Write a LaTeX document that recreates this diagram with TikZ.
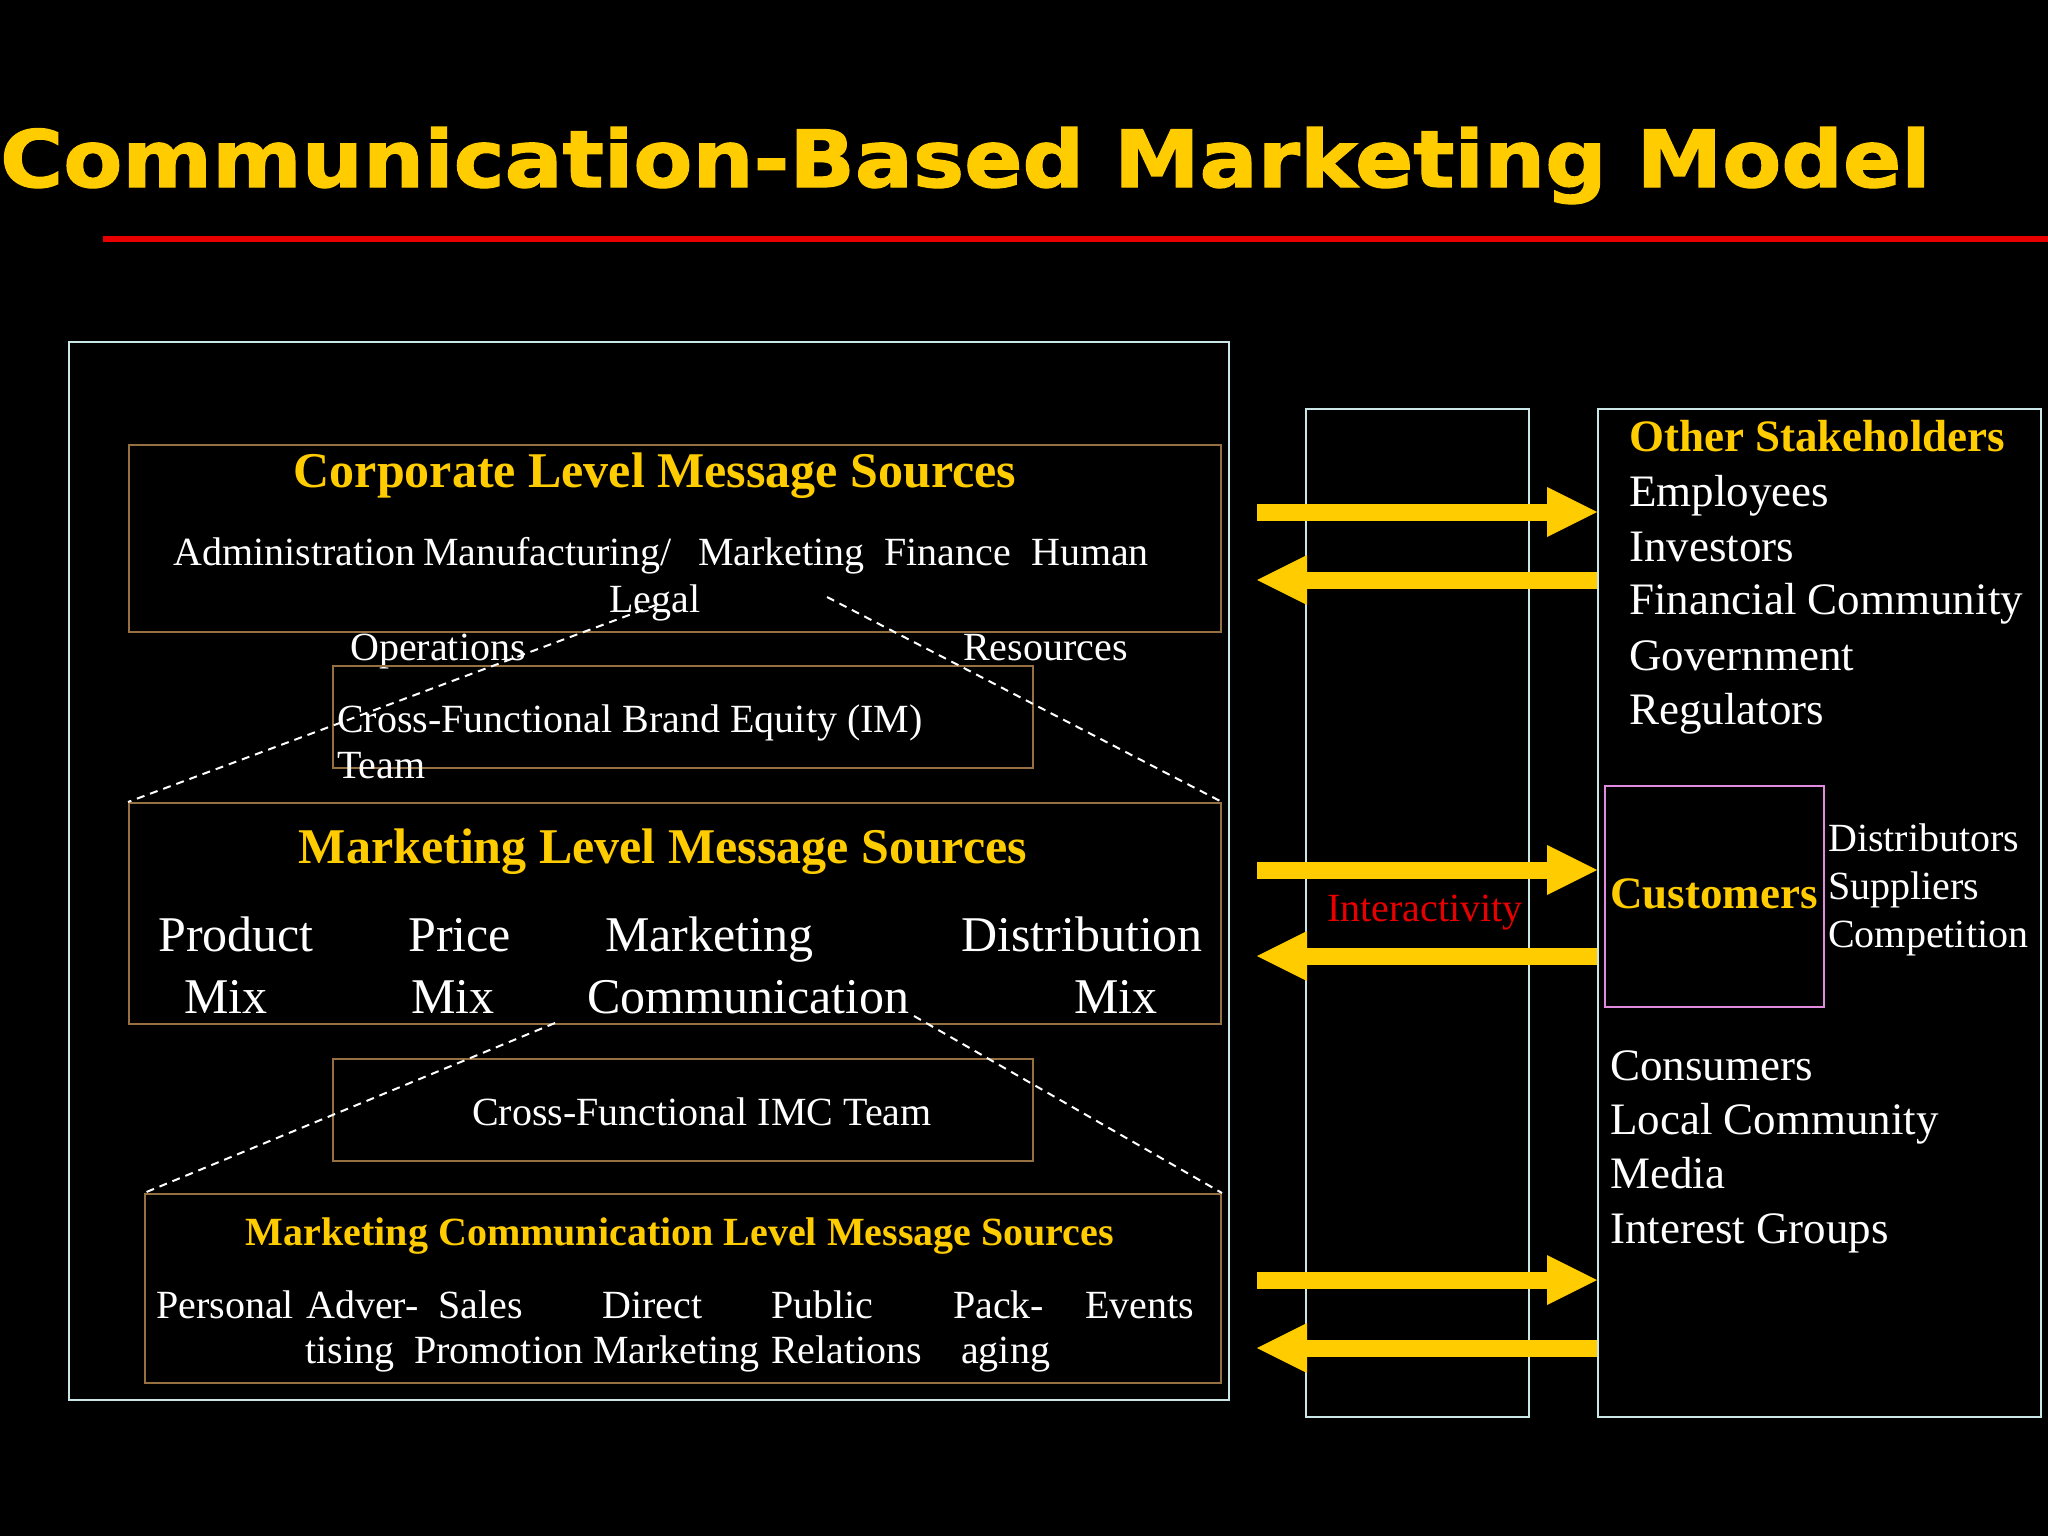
\documentclass[tikz,border=0pt]{standalone}
\usepackage{fontspec}
\setmainfont{Liberation Serif}
\newfontfamily\titlefont{DejaVu Sans}[BoldFeatures={FakeBold=1.5}]
\usetikzlibrary{arrows.meta}
\definecolor{ycol}{HTML}{FFCC00}
\definecolor{cyanline}{HTML}{C8E6E6}
\definecolor{brownline}{HTML}{967040}
\definecolor{pinkline}{HTML}{E08AE0}
\definecolor{redcol}{HTML}{E80000}
\tikzset{
  cyanbox/.style={draw=cyanline, line width=2pt, inner sep=0pt, anchor=north west},
  brownbox/.style={draw=brownline, line width=2pt, inner sep=0pt, anchor=north west},
  pinkbox/.style={draw=pinkline, line width=2pt, inner sep=0pt, anchor=north west},
  txt/.style={text=white, inner sep=0pt, anchor=base west, font=\fontsize{40}{48}\selectfont},
  bigtxt/.style={text=white, inner sep=0pt, anchor=base west, font=\fontsize{50}{60}\selectfont},
  rtxt/.style={text=white, inner sep=0pt, anchor=base west, font=\fontsize{45}{54}\selectfont},
  ytitle/.style={text=ycol, inner sep=0pt, anchor=base, font=\fontsize{50}{60}\selectfont\bfseries},
  dashline/.style={draw=white, line width=2pt, dash pattern=on 8pt off 6pt},
  bigarrow/.style={draw=ycol, line width=17pt, -{Triangle[length=50pt, width=50pt, line width=0pt]}},
}
\begin{document}
\begin{tikzpicture}[x=1pt,y=-1pt]
\fill[black] (0,0) rectangle (2048,1536);
\useasboundingbox (0,0) rectangle (2048,1536);

% title
\node[anchor=base west, inner sep=0pt, text=ycol] (title) at (0,187)
  {\resizebox{1930pt}{60pt}{\titlefont\bfseries Communication-Based Marketing Model}};
\coordinate (redL) at (103,239);
\coordinate (redR) at (2048,239);
\draw[redcol, line width=6pt] (redL) -- (redR);

% big left frame
\node[cyanbox, minimum width=1160pt, minimum height=1058pt] (left) at (68,341) {};

% corporate box
\node[brownbox, minimum width=1092pt, minimum height=187pt] (corp) at (128,444) {};
\node[ytitle] (corpt) at (655,487) {Corporate Level Message Sources};
\node[txt] (c1) at (173,565) {Administration};
\node[txt] (c2) at (423,565) {Manufacturing/};
\node[txt] (c3) at (698,565) {Marketing};
\node[txt] (c4) at (884,565) {Finance};
\node[txt] (c5) at (1031,565) {Human};
\node[txt] (c6) at (609,612) {Legal};
\node[txt] (c7) at (350,660) {Operations};
\node[txt] (c8) at (963,660) {Resources};

% brand equity box
\node[brownbox, minimum width=700pt, minimum height=102pt] (be) at (332,665) {};
\node[txt] (be1) at (337,732) {Cross-Functional Brand Equity (IM)};
\node[txt] (be2) at (337,778) {Team};

% marketing box
\node[brownbox, minimum width=1092pt, minimum height=221pt] (mkt) at (128,802) {};
\node[ytitle] (mktt) at (663,863) {Marketing Level Message Sources};
\node[bigtxt] (m1) at (158,951) {Product};
\node[bigtxt] (m2) at (184,1013) {Mix};
\node[bigtxt] (m3) at (408,951) {Price};
\node[bigtxt] (m4) at (411,1013) {Mix};
\node[bigtxt] (m5) at (605,951) {Marketing};
\node[bigtxt] (m6) at (587,1013) {Communication};
\node[bigtxt] (m7) at (961,951) {Distribution};
\node[bigtxt] (m8) at (1074,1013) {Mix};

% IMC box
\node[brownbox, minimum width=700pt, minimum height=102pt] (imc) at (332,1058) {};
\node[txt] (imct) at (472,1125) {Cross-Functional IMC Team};

% marcom box
\node[brownbox, minimum width=1076pt, minimum height=189pt] (mc) at (144,1193) {};
\node[ytitle, font=\fontsize{40}{48}\selectfont\bfseries] (mct) at (680,1245) {Marketing Communication Level Message Sources};
\node[txt] (r1) at (156,1318) {Personal};
\node[txt] (r2) at (306,1318) {Adver-};
\node[txt] (r3) at (438,1318) {Sales};
\node[txt] (r4) at (602,1318) {Direct};
\node[txt] (r5) at (771,1318) {Public};
\node[txt] (r6) at (953,1318) {Pack-};
\node[txt] (r7) at (1085,1318) {Events};
\node[txt] (s2) at (305,1363) {tising};
\node[txt] (s3) at (414,1363) {Promotion};
\node[txt] (s4) at (593,1363) {Marketing};
\node[txt] (s5) at (771,1363) {Relations};
\node[txt] (s6) at (961,1363) {aging};

% dashed zoom lines
\coordinate (dA) at (656,605);
\coordinate (dB) at (827,597);
\coordinate (dC) at (555,1023);
\coordinate (dD) at (914,1016);
\draw[dashline] (dA) -- (mkt.north west);
\draw[dashline] (dB) -- (mkt.north east);
\draw[dashline] (dC) -- (mc.north west);
\draw[dashline] (dD) -- (mc.north east);

% right side boxes
\node[cyanbox, minimum width=223pt, minimum height=1008pt] (mid) at (1305,408) {};
\node[cyanbox, minimum width=443pt, minimum height=1008pt] (rb) at (1597,408) {};
\node[pinkbox, minimum width=219pt, minimum height=221pt] (cust) at (1604,785) {};

\node[ytitle, anchor=base west, font=\fontsize{45}{54}\selectfont\bfseries] (os) at (1629,451) {Other Stakeholders};
\node[rtxt] (o1) at (1629,506) {Employees};
\node[rtxt] (o2) at (1629,561) {Investors};
\node[rtxt] (o3) at (1629,614) {Financial Community};
\node[rtxt] (o4) at (1629,670) {Government};
\node[rtxt] (o5) at (1629,724) {Regulators};

\node[ytitle, anchor=base west, font=\fontsize{45}{54}\selectfont\bfseries] (custt) at (1610,908) {Customers};
\node[txt] (d1) at (1828,851) {Distributors};
\node[txt] (d2) at (1828,899) {Suppliers};
\node[txt] (d3) at (1828,947) {Competition};

\node[rtxt] (p1) at (1610,1080) {Consumers};
\node[rtxt] (p2) at (1610,1134) {Local Community};
\node[rtxt] (p3) at (1610,1188) {Media};
\node[rtxt] (p4) at (1610,1243) {Interest Groups};

\node[txt, text=redcol] (inter) at (1327,921) {Interactivity};

% arrows
\coordinate (a1) at (1257,512);
\coordinate (a2) at (1257,580);
\coordinate (a3) at (1257,870);
\coordinate (a4) at (1257,956);
\coordinate (a5) at (1257,1280);
\coordinate (a6) at (1257,1348);
\draw[bigarrow] (a1) -- (a1 -| rb.west);
\draw[bigarrow] (a2 -| rb.west) -- (a2);
\draw[bigarrow] (a3) -- (a3 -| rb.west);
\draw[bigarrow] (a4 -| rb.west) -- (a4);
\draw[bigarrow] (a5) -- (a5 -| rb.west);
\draw[bigarrow] (a6 -| rb.west) -- (a6);
\end{tikzpicture}
\end{document}
